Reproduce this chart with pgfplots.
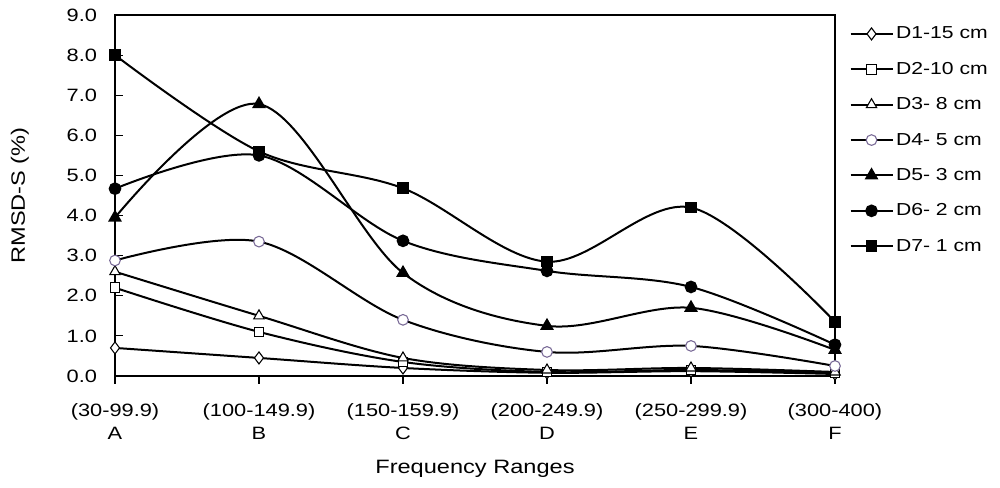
\documentclass[border=0pt]{standalone}
\usepackage{pgfplots}
\pgfplotsset{compat=1.18}
\usetikzlibrary{calc}
\usepackage{fontspec}
\setmainfont[FakeStretch=1.22]{Liberation Sans}
\definecolor{cpurp}{RGB}{120,105,150}
\begin{document}
\begin{tikzpicture}
\begin{axis}[
  scale only axis, width=540pt, height=270.75pt,
  xmin=0, xmax=5, ymin=0, ymax=9,
  xtick={0,1,2,3,4,5},
  xticklabels={{(30-99.9)\\A},{(100-149.9)\\B},{(150-159.9)\\C},{(200-249.9)\\D},{(250-299.9)\\E},{(300-400)\\F}},
  xticklabel style={align=center, font=\fontsize{13.4}{17.5}\selectfont, yshift=-11pt},
  ytick={0,1,...,9},
  yticklabel style={font=\fontsize{13.4}{15}\selectfont, xshift=-10pt},
  /pgf/number format/assume math mode=true,
  /pgf/number format/.cd, fixed, fixed zerofill, precision=1, /pgfplots/.cd,
  major tick length=6pt,
  tick style={line width=0.8pt, black},
  xtick align=outside, ytick align=inside,
  xtick pos=bottom, ytick pos=left,
  axis line style={line width=0.8pt},
  xlabel={Frequency Ranges},
  ylabel={RMSD-S (\%)},
  xlabel style={at={(axis description cs:0.5,-0.258)}, anchor=center, font=\fontsize{14.5}{16}\selectfont},
  ylabel style={at={(axis description cs:-0.132,0.5)}, anchor=center, font=\fontsize{14.5}{16}\selectfont},
  every axis plot/.append style={line width=1.5pt, smooth, tension=0.55, black},
  legend style={draw=none, at={(1.02,0.975)}, anchor=north west, font=\fontsize{13}{15}\selectfont, row sep=12pt, inner sep=0pt, cells={anchor=west}},
  legend image code/.code={\draw[line width=1.5pt, mark repeat=2,mark phase=2] plot coordinates {(0cm,0cm)(0.55cm,0cm)(1.1cm,0cm)};},
]
\coordinate (ll) at (rel axis cs:0,0);
\addplot[mark=diamond*, mark size=4.5pt, mark options={fill=white, line width=0.8pt}] coordinates {(0,0.70)(1,0.45)(2,0.20)(3,0.08)(4,0.12)(5,0.05)};
\addlegendentry{D1-15 cm}
\addplot[mark=square*, mark size=3.6pt, mark options={fill=white, line width=0.8pt}] coordinates {(0,2.20)(1,1.10)(2,0.35)(3,0.10)(4,0.15)(5,0.08)};
\addlegendentry{D2-10 cm}
\addplot[mark=triangle*, mark size=4.5pt, mark options={fill=white, line width=0.8pt}] coordinates {(0,2.60)(1,1.50)(2,0.45)(3,0.15)(4,0.20)(5,0.10)};
\addlegendentry{D3- 8 cm}
\addplot[mark=*, mark size=4pt, mark options={fill=white, draw=cpurp, line width=0.8pt}] coordinates {(0,2.88)(1,3.35)(2,1.40)(3,0.60)(4,0.75)(5,0.25)};
\addlegendentry{D4- 5 cm}
\addplot[mark=triangle*, mark size=4.5pt, mark options={fill=black}] coordinates {(0,3.95)(1,6.78)(2,2.57)(3,1.25)(4,1.70)(5,0.65)};
\addlegendentry{D5- 3 cm}
\addplot[mark=*, mark size=4pt, mark options={fill=black}] coordinates {(0,4.67)(1,5.50)(2,3.37)(3,2.62)(4,2.22)(5,0.78)};
\addlegendentry{D6- 2 cm}
\addplot[mark=square*, mark size=3.6pt, mark options={fill=black}] coordinates {(0,8.00)(1,5.60)(2,4.68)(3,2.85)(4,4.20)(5,1.35)};
\addlegendentry{D7- 1 cm}
\end{axis}
\pgfresetboundingbox
\useasboundingbox ($(ll)+(-86.25pt,-84pt)$) rectangle ++(750pt,366pt);
\end{tikzpicture}
\end{document}
